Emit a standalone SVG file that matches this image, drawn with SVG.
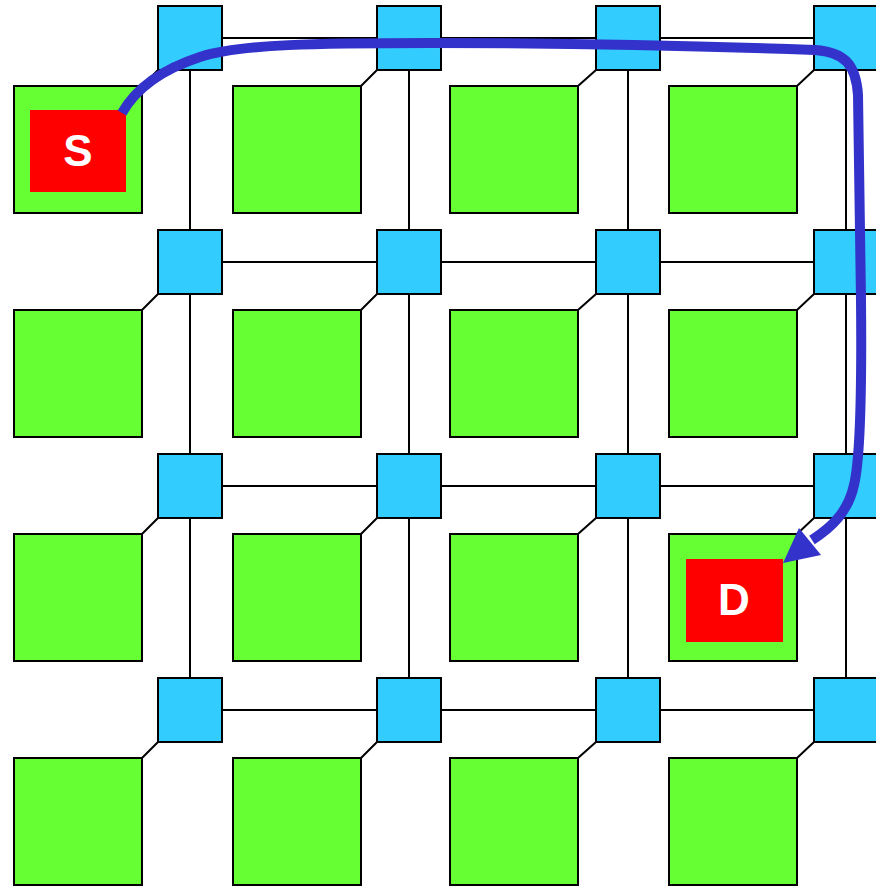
<svg xmlns="http://www.w3.org/2000/svg" width="876" height="886" viewBox="0 0 876 886">
<style>
.pe{fill:#66ff33;stroke:#000;stroke-width:2}
.rt{fill:#33ccff;stroke:#000;stroke-width:2}
.ln{stroke:#000;stroke-width:2;fill:none}
.ep{fill:#ff0000}
.lb{font-family:"Liberation Sans",Arial,sans-serif;font-weight:bold;font-size:44px;fill:#fff;text-anchor:middle}
.rte{fill:none;stroke:#3333cc;stroke-width:10;stroke-linecap:butt}
</style>
<rect width="876" height="886" fill="#fff"/>
<g id="connectors">
<path class="ln" d="M222,38H377M441,38H596M660,38H814M222,262H377M441,262H596M660,262H814M222,486H377M441,486H596M660,486H814M222,710H377M441,710H596M660,710H814"/>
<path class="ln" d="M190,70V230M409,70V230M628,70V230M846,70V230M190,294V454M409,294V454M628,294V454M846,294V454M190,518V678M409,518V678M628,518V678M846,518V678"/>
<path class="ln" d="M142,86L158,70M361,86L377,70M578,86L596,70M797,86L814,70M142,310L158,294M361,310L377,294M578,310L596,294M797,310L814,294M142,534L158,518M361,534L377,518M578,534L596,518M797,534L814,518M142,758L158,742M361,758L377,742M578,758L596,742M797,758L814,742"/>
</g>
<g id="pe-0-0"><rect class="pe" x="14" y="86" width="128" height="127"/></g>
<g id="pe-0-1"><rect class="pe" x="233" y="86" width="128" height="127"/></g>
<g id="pe-0-2"><rect class="pe" x="450" y="86" width="128" height="127"/></g>
<g id="pe-0-3"><rect class="pe" x="669" y="86" width="128" height="127"/></g>
<g id="pe-1-0"><rect class="pe" x="14" y="310" width="128" height="127"/></g>
<g id="pe-1-1"><rect class="pe" x="233" y="310" width="128" height="127"/></g>
<g id="pe-1-2"><rect class="pe" x="450" y="310" width="128" height="127"/></g>
<g id="pe-1-3"><rect class="pe" x="669" y="310" width="128" height="127"/></g>
<g id="pe-2-0"><rect class="pe" x="14" y="534" width="128" height="127"/></g>
<g id="pe-2-1"><rect class="pe" x="233" y="534" width="128" height="127"/></g>
<g id="pe-2-2"><rect class="pe" x="450" y="534" width="128" height="127"/></g>
<g id="pe-2-3"><rect class="pe" x="669" y="534" width="128" height="127"/></g>
<g id="pe-3-0"><rect class="pe" x="14" y="758" width="128" height="127"/></g>
<g id="pe-3-1"><rect class="pe" x="233" y="758" width="128" height="127"/></g>
<g id="pe-3-2"><rect class="pe" x="450" y="758" width="128" height="127"/></g>
<g id="pe-3-3"><rect class="pe" x="669" y="758" width="128" height="127"/></g>
<g id="r-0-0"><rect class="rt" x="158" y="6" width="64" height="64"/></g>
<g id="r-0-1"><rect class="rt" x="377" y="6" width="64" height="64"/></g>
<g id="r-0-2"><rect class="rt" x="596" y="6" width="64" height="64"/></g>
<g id="r-0-3"><rect class="rt" x="814" y="6" width="64" height="64"/></g>
<g id="r-1-0"><rect class="rt" x="158" y="230" width="64" height="64"/></g>
<g id="r-1-1"><rect class="rt" x="377" y="230" width="64" height="64"/></g>
<g id="r-1-2"><rect class="rt" x="596" y="230" width="64" height="64"/></g>
<g id="r-1-3"><rect class="rt" x="814" y="230" width="64" height="64"/></g>
<g id="r-2-0"><rect class="rt" x="158" y="454" width="64" height="64"/></g>
<g id="r-2-1"><rect class="rt" x="377" y="454" width="64" height="64"/></g>
<g id="r-2-2"><rect class="rt" x="596" y="454" width="64" height="64"/></g>
<g id="r-2-3"><rect class="rt" x="814" y="454" width="64" height="64"/></g>
<g id="r-3-0"><rect class="rt" x="158" y="678" width="64" height="64"/></g>
<g id="r-3-1"><rect class="rt" x="377" y="678" width="64" height="64"/></g>
<g id="r-3-2"><rect class="rt" x="596" y="678" width="64" height="64"/></g>
<g id="r-3-3"><rect class="rt" x="814" y="678" width="64" height="64"/></g>
<g id="src"><rect class="ep" x="30" y="110" width="96" height="82"/><text class="lb" x="78" y="166">S</text></g>
<g id="dst"><rect class="ep" x="686" y="559" width="97" height="83"/><text class="lb" x="734" y="615">D</text></g>
<g id="route">
<path class="rte" d="M122,113 C135,90 160,70 200,57 C240,44 320,43 430,43 C550,43 700,46 815,50 C845,52 856,65 858,95 L861,300 C862,400 860,460 854,485 C848,512 832,527 812,540"/>
<polygon fill="#3333cc" points="783,563 799,528 821,555"/>
</g>
</svg>
